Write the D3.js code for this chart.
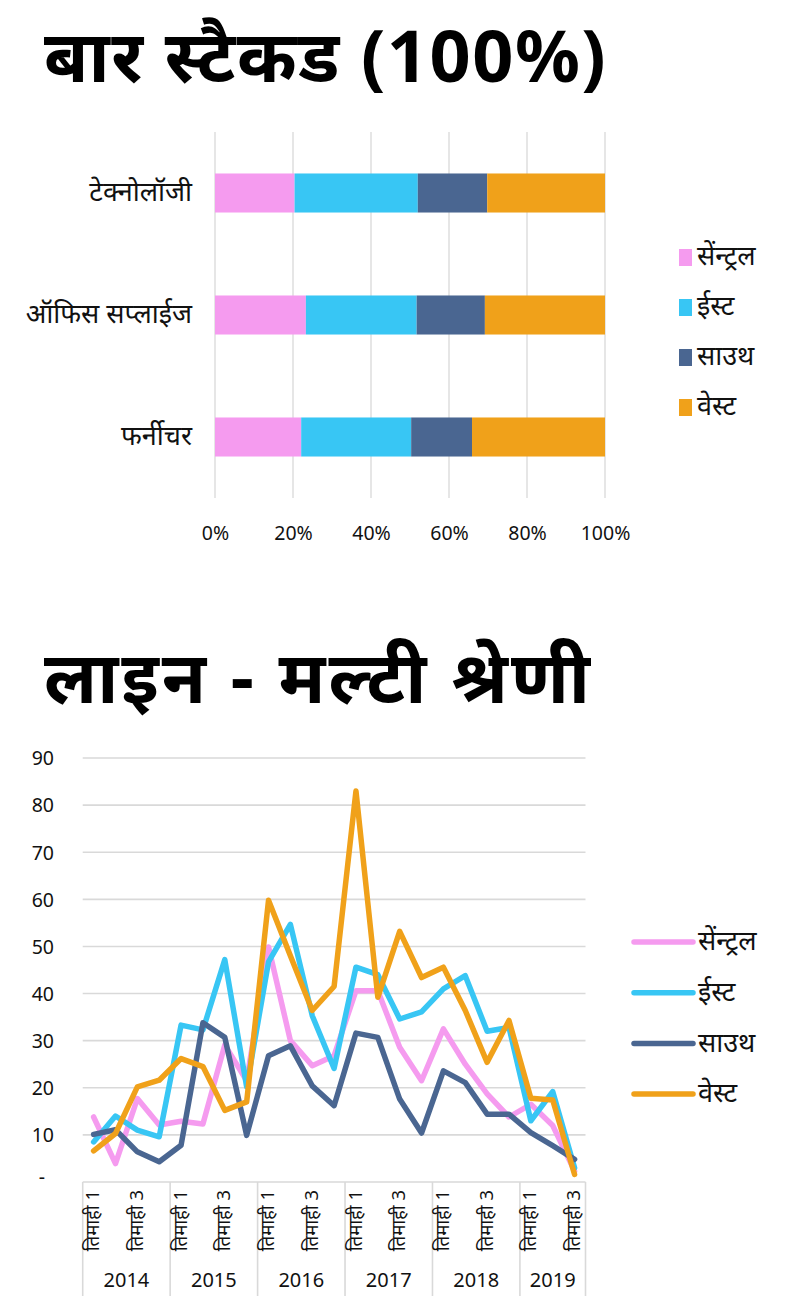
<!DOCTYPE html>
<html>
<head>
<meta charset="utf-8">
<script src="https://cdn.jsdelivr.net/npm/d3@7"></script>
<style>
  html, body { margin: 0; padding: 0; background: #fff; }
  svg { display: block; }
  text { font-family: "Noto Sans", "Noto Sans Devanagari", Lato, sans-serif; fill: #111; }
  .title { font-weight: 700; fill: #000; }
</style>
</head>
<body>
<svg id="chart" width="809" height="1312"></svg>
<script>
// ---------- data ----------
const barTitle = "बार स्टैकड (100%)";
const lineTitle = "लाइन - मल्टी श्रेणी";

const regions = ["सेंन्ट्रल", "ईस्ट", "साउथ", "वेस्ट"];
const regionColors = ["#f59bef", "#38c6f4", "#4a6691", "#f0a11a"];

const barCategories = ["टेक्नोलॉजी", "ऑफिस सप्लाईज", "फर्नीचर"];
const barCentral = [20.4, 23.3, 22.1];
const barEast    = [31.6, 28.4, 28.2];
const barSouth   = [17.8, 17.5, 15.6];
const barWest    = [30.2, 30.8, 34.1];
const barTicks = [0, 0.2, 0.4, 0.6, 0.8, 1.0];

const years = ["2014", "2015", "2016", "2017", "2018", "2019"];
const quartersPerYear = [4, 4, 4, 4, 4, 3];
const quarterNames = ["तिमाही 1", "तिमाही 2", "तिमाही 3", "तिमाही 4"];

const central = [13.8, 3.9, 17.7, 12.1, 12.9, 12.3, 29.1, 21.5, 49.9, 30, 24.7, 26.8, 40.6, 40.6, 28.6, 21.5, 32.5, 25, 18.7, 13.8, 16.5, 12, 2.3];
const east    = [8.5, 14, 11, 9.6, 33.3, 32.3, 47.2, 20.2, 46.7, 54.7, 35.3, 24.1, 45.6, 44, 34.6, 36.1, 41, 43.8, 32, 32.8, 13, 19.2, 3];
const south   = [10.1, 11.1, 6.4, 4.3, 7.8, 33.8, 30.7, 9.9, 26.8, 28.9, 20.4, 16.2, 31.6, 30.7, 17.6, 10.4, 23.6, 21.1, 14.4, 14.4, 10.5, 7.7, 4.8];
const west    = [6.6, 10.3, 20.2, 21.6, 26.2, 24.5, 15.2, 17, 59.8, 48, 36.4, 41.5, 83, 39.2, 53.2, 43.4, 45.6, 36.4, 25.4, 34.3, 17.8, 17.4, 1.6];
const lineTicks = [0, 10, 20, 30, 40, 50, 60, 70, 80, 90];

// ---------- drawing ----------
const svg = d3.select("#chart");
const gridColor = "#d9d9d9";
const labelSize = 27;

// ===== Title 1 =====
svg.append("text").attr("class", "title")
  .attr("x", 44).attr("y", 82)
  .attr("font-size", 72)
  .attr("letter-spacing", 1.5)
  .text(barTitle);

// ===== Stacked 100% bar =====
const barRows = barCategories.map((c, i) => ({
  cat: c, r0: barCentral[i], r1: barEast[i], r2: barSouth[i], r3: barWest[i]
}));
const keys = ["r0", "r1", "r2", "r3"];
const stacked = d3.stack().keys(keys).offset(d3.stackOffsetExpand)(barRows);

const bx = d3.scaleLinear().domain([0, 1]).range([215, 605]);
const by = d3.scaleBand().domain(barCategories).range([132, 498])
  .paddingInner(0.68).paddingOuter(0.34);

const gBar = svg.append("g");
gBar.append("g").selectAll("line").data(barTicks).join("line")
  .attr("x1", d => bx(d)).attr("x2", d => bx(d))
  .attr("y1", 132).attr("y2", 498)
  .attr("stroke", gridColor).attr("stroke-width", 1.3);

gBar.append("g").selectAll("g").data(stacked).join("g")
  .attr("fill", (d, i) => regionColors[i])
  .selectAll("rect").data(d => d).join("rect")
  .attr("x", d => bx(d[0]))
  .attr("width", d => bx(d[1]) - bx(d[0]))
  .attr("y", d => by(d.data.cat))
  .attr("height", by.bandwidth());

const bxAxis = gBar.append("g").attr("transform", "translate(0,533)")
  .call(d3.axisBottom(bx).tickValues(barTicks).tickFormat(d3.format(".0%")).tickSize(0));
bxAxis.select(".domain").remove();
bxAxis.selectAll("text").attr("font-size", 19.5).attr("fill", "#333").attr("dy", "0.35em").attr("y", 0);

const byAxis = gBar.append("g").attr("transform", "translate(192,0)")
  .call(d3.axisLeft(by).tickSize(0).tickPadding(0));
byAxis.select(".domain").remove();
byAxis.selectAll("text").attr("font-size", labelSize).attr("fill", "#111").attr("x", 0).attr("dy", "0.3em");

// bar legend
const gBL = svg.append("g");
regions.forEach((r, i) => {
  const y = 257 + i * 50;
  gBL.append("rect").attr("x", 679).attr("y", y - 8).attr("width", 13).attr("height", 17)
    .attr("fill", regionColors[i]);
  gBL.append("text").attr("x", 697).attr("y", y).attr("dy", "0.3em")
    .attr("font-size", labelSize).attr("fill", "#111").text(r);
});

// ===== Title 2 =====
svg.append("text").attr("class", "title")
  .attr("x", 44).attr("y", 703)
  .attr("font-size", 72)
  .attr("letter-spacing", 3)
  .text(lineTitle);

// ===== Multi-series line =====
const quarterLabels = [];
years.forEach((y, yi) => {
  for (let q = 0; q < quartersPerYear[yi]; q++) quarterLabels.push({ year: y, q: q, key: y + "-" + q });
});
const xL = d3.scaleBand().domain(quarterLabels.map(d => d.key)).range([82.7, 585.5]);
const yL = d3.scaleLinear().domain([0, 90]).range([1182, 758]);
const cx = k => xL(k) + xL.bandwidth() / 2;

const gLine = svg.append("g");
// gridlines
gLine.append("g").selectAll("line").data(lineTicks.slice(1)).join("line")
  .attr("x1", 82.7).attr("x2", 585.5)
  .attr("y1", d => yL(d)).attr("y2", d => yL(d))
  .attr("stroke", gridColor).attr("stroke-width", 1.6);

// y axis labels
const yAxis = gLine.append("g").attr("transform", "translate(54,0)")
  .call(d3.axisLeft(yL).tickValues(lineTicks).tickSize(0).tickPadding(0)
    .tickFormat(d => d === 0 ? "-" : d));
yAxis.select(".domain").remove();
yAxis.selectAll("text").attr("font-size", 19.5).attr("fill", "#222").attr("x", 0).attr("dy", "0.35em");
yAxis.selectAll(".tick").filter(d => d === 0).select("text").attr("x", -9).attr("dy", "0.1em");

// category axis box
gLine.append("line").attr("x1", 82.7).attr("x2", 585.5).attr("y1", 1182).attr("y2", 1182)
  .attr("stroke", gridColor).attr("stroke-width", 1.6);
const yearBounds = [];
let idx = 0;
years.forEach((y, yi) => {
  const first = quarterLabels[idx].key;
  const last = quarterLabels[idx + quartersPerYear[yi] - 1].key;
  yearBounds.push({ year: y, x0: xL(first), x1: xL(last) + xL.bandwidth() });
  idx += quartersPerYear[yi];
});
const sepXs = [yearBounds[0].x0].concat(yearBounds.map(d => d.x1));
gLine.append("g").selectAll("line").data(sepXs).join("line")
  .attr("x1", d => d).attr("x2", d => d).attr("y1", 1182).attr("y2", 1296)
  .attr("stroke", gridColor).attr("stroke-width", 1.6);

// rotated quarter labels (every other one)
gLine.append("g").selectAll("text").data(quarterLabels.filter(d => d.q % 2 === 0)).join("text")
  .attr("transform", d => `translate(${cx(d.key)},1190) rotate(-90)`)
  .attr("text-anchor", "end").attr("dy", "0.3em")
  .attr("font-size", 18.5).attr("fill", "#111")
  .text(d => quarterNames[d.q]);

// year labels
gLine.append("g").selectAll("text").data(yearBounds).join("text")
  .attr("x", d => (d.x0 + d.x1) / 2).attr("y", 1280).attr("dy", "0.35em")
  .attr("text-anchor", "middle").attr("font-size", 20).attr("fill", "#111")
  .text(d => d.year);

// lines
const series = [central, east, south, west];
const lineGen = d3.line().x((d, i) => cx(quarterLabels[i].key)).y(d => yL(d));
gLine.append("g").selectAll("path").data(series).join("path")
  .attr("d", d => lineGen(d))
  .attr("fill", "none")
  .attr("stroke", (d, i) => regionColors[i])
  .attr("stroke-width", 5.5)
  .attr("stroke-linejoin", "round")
  .attr("stroke-linecap", "round");

// line legend
const gLL = svg.append("g");
regions.forEach((r, i) => {
  const y = 942 + i * 50.7;
  gLL.append("line").attr("x1", 634).attr("x2", 693).attr("y1", y).attr("y2", y)
    .attr("stroke", regionColors[i]).attr("stroke-width", 5.5).attr("stroke-linecap", "round");
  gLL.append("text").attr("x", 698).attr("y", y).attr("dy", "0.3em")
    .attr("font-size", labelSize).attr("fill", "#111").text(r);
});
</script>
</body>
</html>
